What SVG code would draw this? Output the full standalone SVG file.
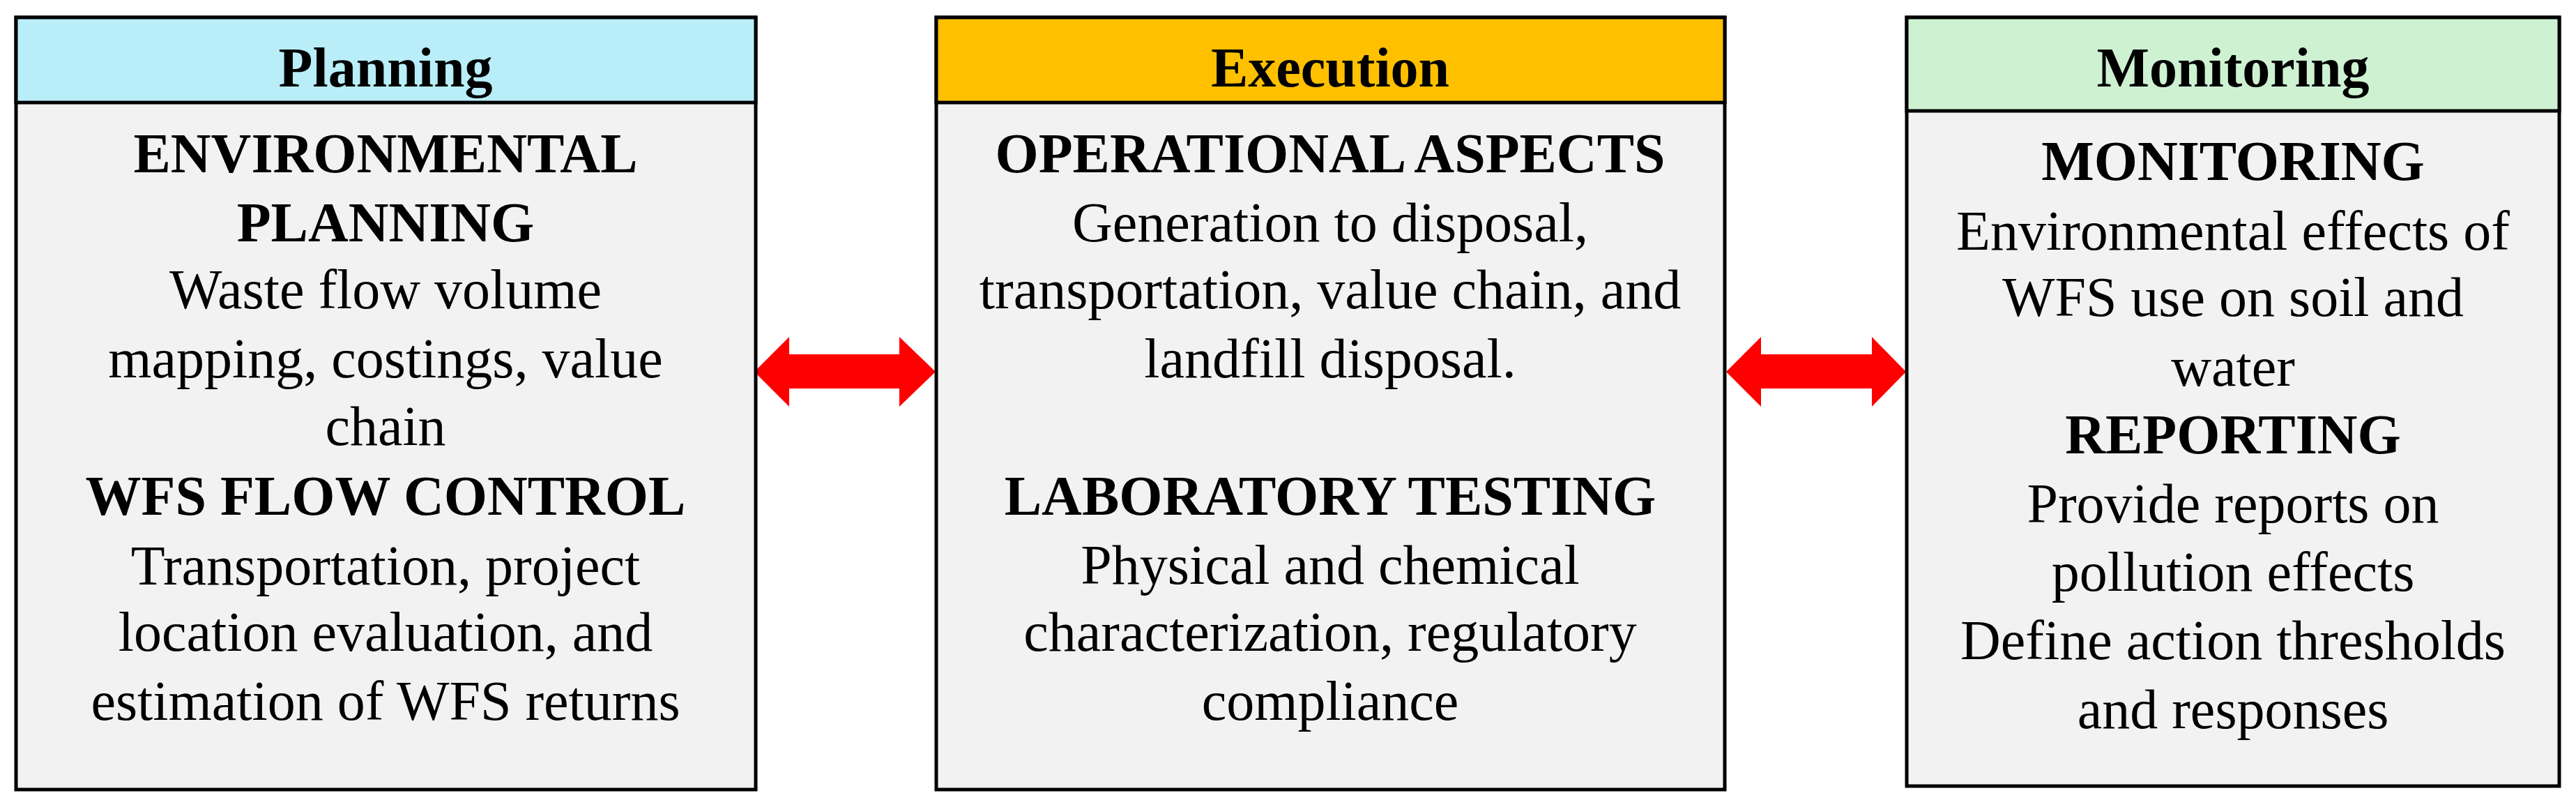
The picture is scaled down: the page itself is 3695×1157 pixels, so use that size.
<svg xmlns="http://www.w3.org/2000/svg" width="3695" height="1157" viewBox="0 0 3695 1157">
<style>
.box{fill:#F2F2F2;stroke:#000;stroke-width:5}
.hd{stroke:#000;stroke-width:5}
text{font-family:"Liberation Serif","Times New Roman",serif;font-size:80px;fill:#000;text-anchor:middle}
.b{font-weight:bold}
.arrow{fill:#FF0000}
</style>
<rect width="3695" height="1157" fill="#FFFFFF"/>
<g id="connectors">
<polygon class="arrow" points="1082,533 1132,483 1132,508 1290,508 1290,483 1342,533 1290,583 1290,557 1132,557 1132,583"/>
<polygon class="arrow" points="2476,533 2526,483 2526,508 2685,508 2685,483 2734,533 2685,583 2685,557 2526,557 2526,583"/>
</g>
<g id="planning">
<rect class="box" x="23" y="25" width="1061" height="1107"/>
<rect class="hd" x="23" y="25" width="1061" height="122" fill="#B9EEF9"/>
<text class="b" x="553" y="124">Planning</text>
<text class="b" x="553" y="247">ENVIRONMENTAL</text>
<text class="b" x="553" y="346">PLANNING</text>
<text x="553" y="442">Waste flow volume</text>
<text x="553" y="541">mapping, costings, value</text>
<text x="553" y="638">chain</text>
<text class="b" x="553" y="738">WFS FLOW CONTROL</text>
<text x="553" y="838">Transportation, project</text>
<text x="553" y="933">location evaluation, and</text>
<text x="553" y="1032">estimation of WFS returns</text>
</g>
<g id="execution">
<rect class="box" x="1343" y="25" width="1131" height="1107"/>
<rect class="hd" x="1343" y="25" width="1131" height="122" fill="#FFC000"/>
<text class="b" x="1908" y="124">Execution</text>
<text class="b" x="1908" y="247">OPERATIONAL ASPECTS</text>
<text x="1908" y="346">Generation to disposal,</text>
<text x="1908" y="442">transportation, value chain, and</text>
<text x="1908" y="541">landfill disposal.</text>
<text class="b" x="1908" y="738">LABORATORY TESTING</text>
<text x="1908" y="837">Physical and chemical</text>
<text x="1908" y="933">characterization, regulatory</text>
<text x="1908" y="1032">compliance</text>
</g>
<g id="monitoring">
<rect class="box" x="2735" y="25" width="936" height="1102"/>
<rect class="hd" x="2735" y="25" width="936" height="134" fill="#CEF1D2"/>
<text class="b" x="3203" y="124">Monitoring</text>
<text class="b" x="3203" y="258">MONITORING</text>
<text x="3203" y="358">Environmental effects of</text>
<text x="3203" y="453">WFS use on soil and</text>
<text x="3203" y="553">water</text>
<text class="b" x="3203" y="650">REPORTING</text>
<text x="3203" y="749">Provide reports on</text>
<text x="3203" y="847">pollution effects</text>
<text x="3203" y="945">Define action thresholds</text>
<text x="3203" y="1044">and responses</text>
</g>
</svg>
